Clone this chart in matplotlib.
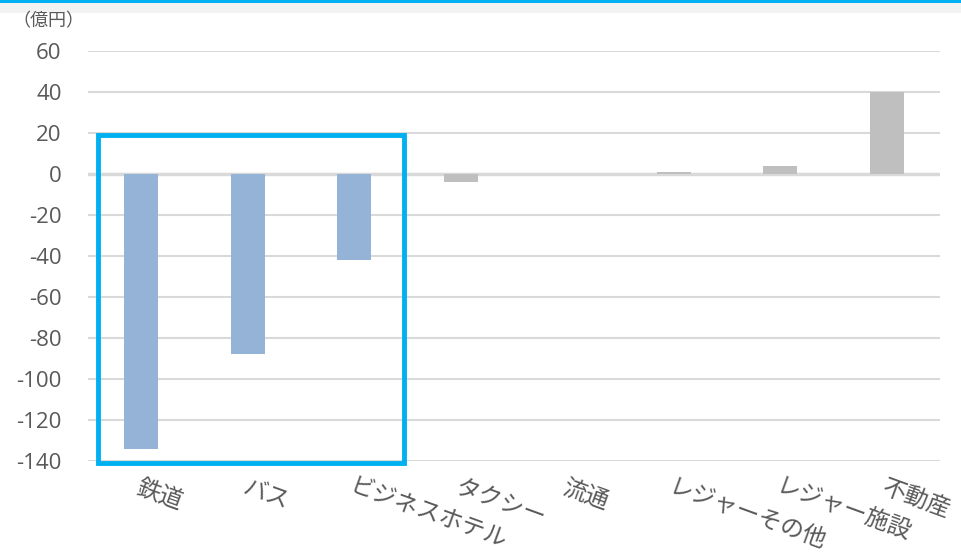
import matplotlib
matplotlib.use("Agg")
import matplotlib.pyplot as plt
from matplotlib.patches import Rectangle

plt.rcParams['font.family'] = ['Noto Sans CJK JP', 'DejaVu Sans']

categories = ['鉄道', 'バス', 'ビジネスホテル', 'タクシー', '流通', 'レジャーその他', 'レジャー施設', '不動産']
values = [-134, -88, -42, -4, 0, 1, 4, 40]
highlight = [True, True, True, False, False, False, False, False]
yticks = [60, 40, 20, 0, -20, -40, -60, -80, -100, -120, -140]
unit_label = '（億円）'

blue = '#95b3d7'
gray = '#bfbfbf'
text_color = '#595959'

fig = plt.figure(figsize=(9.61, 5.58), dpi=100)
ax = fig.add_axes([88/961, 1-461/558, (940-88)/961, (461-51)/558])

# top decoration
fig.patches.append(Rectangle((0, 1-13/558), 1, 11/558, transform=fig.transFigure,
                             facecolor='#f2f2f2', edgecolor='none', zorder=0))
fig.patches.append(Rectangle((0, 1-2.5/558), 1, 2.5/558, transform=fig.transFigure,
                             facecolor='#00b0f0', edgecolor='none', zorder=1))

x = list(range(len(categories)))
colors = [blue if h else gray for h in highlight]
ax.bar(x, values, width=0.32, color=colors, zorder=3)

ax.set_xlim(-0.5, len(categories) - 0.5)
ax.set_ylim(min(yticks), max(yticks))
ax.set_yticks(yticks)
ax.set_yticklabels([str(v) for v in yticks], fontsize=16, color=text_color,
                   family=['Open Sans', 'DejaVu Sans'])
ax.yaxis.grid(True, color='#d9d9d9', linewidth=1.5, zorder=0)
ax.axhline(0, color='#d9d9d9', linewidth=2.5, zorder=2)
ax.tick_params(axis='y', length=0, pad=19)
ax.tick_params(axis='x', length=0, pad=11)
for s in ax.spines.values():
    s.set_visible(False)

ax.set_xticks(x)
ax.set_xticklabels(categories, fontsize=17, color=text_color, rotation=-20,
                   ha='left', va='top', rotation_mode='anchor')

# highlight box around the first three categories
ax.add_patch(Rectangle((-0.405, -141), 2.87, 160, fill=False, edgecolor='#00b0f0',
                       linewidth=3.5, zorder=5, clip_on=False))

fig.text(12/961, 1-21/558, unit_label, fontsize=13, color=text_color, va='center', ha='left')

fig.savefig('out.png', dpi=100)
